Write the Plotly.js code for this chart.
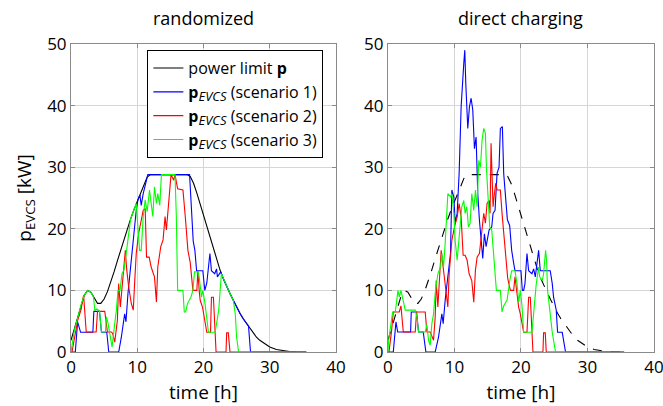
<!DOCTYPE html>
<html><head><meta charset="utf-8">
<script src="https://cdn.plot.ly/plotly-3.0.1.min.js"></script>
<style>html,body{margin:0;padding:0;background:#fff}#chart{width:663px;height:406px}</style>
</head><body><div id="chart"></div><script>
// power limit p (both panels)
const tLimit = [0,0.5,1,1.5,2,2.5,3,3.5,4,4.5,5,5.5,6,6.5,7,7.5,8,8.5,9,9.5,10,10.5,11,11.5,12,17.5,18,18.5,19,19.5,20,20.5,21,21.5,22,22.5,23,23.5,24,24.5,25,25.5,26,26.5,27,27.5,28,28.5,29,29.5,30,31,32,33,34,35.5];
const pLimit = [1.9,3.8,5.7,7.6,9.2,10.0,9.7,8.8,7.9,7.9,8.6,9.8,11.3,13.0,14.8,16.6,18.4,20.0,21.6,23.1,24.5,25.9,27.3,28.4,28.8,28.8,28.5,27.4,25.8,24.0,22.2,20.3,18.4,16.6,14.9,13.3,11.9,10.6,9.5,8.4,7.3,6.3,5.4,4.6,3.8,3.0,2.4,1.9,1.5,1.1,0.8,0.4,0.18,0.08,0.03,0];

// randomized: scenario 1
const tRand1 = [0,0.65,1.0,1.45,3.3,3.45,4.3,4.6,5.4,5.7,7.2,7.6,8.1,8.3,8.6,9.1,9.45,9.85,10.1,10.4,10.6,10.9,11.6,17.9,18.45,18.7,18.96,19.9,20.2,20.5,20.97,21.2,21.7,21.97,22.1,22.6,23.0,23.5,24.0,24.5,25.0,25.5,26.0,26.5,26.8,27.1,35.5];
const pRand1 = [0,0,4.9,3.2,3.2,6.6,6.6,3.2,3.2,0,0,2.4,6.2,4.9,9.5,14.9,19.2,23.0,24.7,25.5,23.8,25.7,28.8,28.8,18.0,16.5,13.2,13.2,10.0,11.2,16.0,13.2,12.7,13.5,12.2,13.0,11.9,10.6,9.5,8.4,7.3,6.3,5.4,4.6,4.2,0,0];
// randomized: scenario 2
const tRand2 = [0,0.15,1.0,1.5,1.9,2.3,3.8,4.0,5.1,5.5,6.1,6.3,6.6,7.0,7.2,7.45,7.85,8.2,8.4,8.7,9.1,9.4,9.6,9.85,10.2,10.6,10.9,11.2,11.4,11.8,12.1,12.6,12.9,13.1,13.55,13.9,14.2,14.4,14.6,14.9,15.1,15.5,15.7,16.1,16.9,17.25,17.65,18.0,18.4,19.0,19.15,19.35,19.5,19.85,20.05,20.5,21.06,21.2,21.5,21.9,23.4,23.5,23.75,24.0,35.5];
const pRand2 = [0,0,5.1,6.8,9.2,3.25,3.25,6.6,6.6,3.25,3.25,3.0,1.6,5.1,11.1,7.3,12.2,16.5,13.5,10.6,7.9,6.8,11.1,16.0,19.2,21.1,23.0,23.3,15.4,15.4,13.8,12.2,8.1,13.8,17.1,18.2,22.0,19.8,22.5,26.3,28.8,27.9,28.8,26.5,26.3,22.0,16.5,14.5,10.0,10.0,13.2,10.0,8.4,7.3,6.2,3.2,3.2,8.9,8.9,0,0,3.1,3.1,0,0];
// randomized: scenario 3
const tRand3 = [0,0.5,1.0,1.5,2.0,2.5,3.0,3.4,3.6,3.9,4.3,4.6,5.2,5.35,5.6,6.2,6.6,6.85,7.1,7.4,7.7,8.0,8.2,8.4,8.6,9.0,9.5,9.85,10.1,10.35,10.6,10.9,11.2,11.5,11.85,12.1,12.35,12.6,12.9,13.1,13.4,13.65,15.7,15.9,16.1,16.9,17.1,17.3,17.6,18.1,18.4,18.65,19.2,19.35,19.7,19.9,20.2,20.75,21.76,22.3,22.7,22.9,23.5,24.0,24.5,24.8,25.0,25.3,35.5];
const pRand3 = [0,3.5,5.5,7.6,9.2,10.0,9.7,8.9,6.7,7.0,6.7,3.25,3.25,5.7,4.6,0.8,4.6,6.8,10.0,10.0,12.7,13.3,14.9,16.5,18.7,21.6,23.1,24.1,20.3,16.5,16.5,22.0,24.7,22.8,26.3,24.1,22.0,26.8,24.1,25.7,23.8,28.8,28.8,22.0,10.0,10.0,6.5,6.5,7.9,8.9,10.0,13.0,13.0,12.2,8.9,10.0,8.1,3.2,3.2,6.8,12.7,12.2,10.6,9.5,8.4,6.2,2.4,0,0];

// direct charging: scenario 1
const tDir1 = [0,0.8,1.2,1.46,3.4,3.5,4.3,4.6,5.3,5.7,7.1,7.6,8.1,8.3,8.6,9.1,9.4,9.6,9.9,10.1,10.4,10.7,11.0,11.4,11.55,11.7,12.0,12.25,12.5,12.75,13.0,13.25,13.5,13.75,14.0,14.25,14.5,14.75,15.2,15.6,15.8,16.1,16.4,16.7,16.9,17.2,17.4,17.7,17.95,18.3,18.6,18.9,19.1,20.0,20.2,20.4,20.6,20.9,21.15,21.65,21.9,22.15,22.4,22.65,22.9,24.4,24.7,24.9,25.3,25.5,26.2,26.45,26.7,35.5];
const pDir1 = [0,0,4.9,3.25,3.25,6.5,6.5,3.25,3.25,0,0,2.4,6.2,4.6,8.4,12.7,16.0,26.3,25.2,21.1,22.5,29.0,39.8,46.9,49.0,43.6,36.3,39.8,41.2,39.3,33.0,34.9,25.7,21.4,18.1,15.2,19.2,17.1,19.8,20.3,22.5,23.0,29.0,30.0,36.3,36.6,29.0,25.0,21.5,20.5,16.5,14.4,13.2,13.2,10.0,10.0,11.1,16.0,13.2,12.7,13.5,12.2,14.0,16.5,13.2,13.2,11.1,8.9,6.8,3.2,3.2,1.6,0,0];
// direct charging: scenario 2
const tDir2 = [0,0.15,0.55,0.8,1.7,1.95,2.3,4.1,4.3,5.6,5.85,6.35,6.85,7.1,7.25,7.5,8.0,8.4,8.7,9.0,9.2,9.6,10.0,10.4,10.7,11.0,11.3,11.6,11.9,12.2,12.6,12.9,13.15,13.4,13.75,14.15,14.4,14.65,14.9,15.2,15.35,15.5,15.8,16.0,16.2,16.4,16.9,17.15,17.45,17.7,18.0,18.4,18.9,19.1,19.4,19.65,19.9,20.15,20.4,20.9,21.15,21.4,21.65,21.8,23.3,23.4,23.65,23.8,35.5];
const pDir2 = [0,0,3.5,6.5,6.5,7.5,3.25,3.25,6.5,6.5,3.25,3.25,1.9,5.7,11.6,7.3,16.5,12.7,10.0,7.3,12.7,18.1,20.3,21.9,24.1,21.9,15.7,15.7,14.9,12.7,11.6,8.1,13.3,15.4,16.0,20.3,22.5,20.9,24.1,24.6,22.5,33.9,23.6,25.7,27.4,26.3,26.3,22.5,18.5,15.0,12.0,10.0,10.0,12.2,8.9,7.3,6.2,4.6,3.2,3.2,8.9,8.9,3.5,0,0,3.1,3.1,0,0];
// direct charging: scenario 3
const tDir3 = [0,0.1,0.7,1.1,1.5,1.7,1.95,2.3,2.6,4.1,4.35,4.6,5.6,5.85,6.1,6.35,6.6,6.85,7.1,7.5,7.9,8.1,8.35,8.6,9.0,9.4,9.6,9.9,10.1,10.4,10.6,10.85,11.1,11.4,11.6,11.85,12.1,12.35,12.6,12.9,13.15,13.4,13.65,13.9,14.15,14.4,14.65,14.8,15.1,15.3,15.6,15.8,16.1,16.3,16.9,17.15,17.4,17.9,18.3,18.6,19.1,19.4,19.65,19.9,20.15,20.4,21.65,21.9,22.3,22.65,22.8,23.2,23.4,23.7,23.85,24.0,24.3,24.7,24.9,25.2,35.5];
const pDir3 = [0,1.9,6.5,6.5,10.0,8.9,10.0,8.4,6.8,6.8,5.7,3.25,3.25,4.5,1.9,1.1,4.6,6.2,9.5,12.7,13.8,16.0,13.8,17.6,25.7,25.2,25.7,22.5,18.1,14.9,17.1,20.3,23.6,24.6,22.5,23.6,20.3,20.9,25.7,23.0,26.3,23.6,31.1,30.0,34.4,36.3,35.5,30.0,23.0,20.3,19.8,17.1,12.7,10.0,10.0,6.5,7.5,8.4,11.5,13.2,13.2,11.1,8.1,10.0,7.5,3.2,3.2,6.8,11.1,13.8,12.2,11.6,12.7,16.5,14.9,10.0,6.8,3.2,1.9,0,0];

const BLUE = '#0000ff', RED = '#ff0000', GREEN = '#00ff00';
const LW = 1.1;
function tr(x, y, color, name, axis, show, dash) {
  return {x: x, y: y, type: 'scatter', mode: 'lines', name: name, showlegend: show,
    xaxis: axis === 2 ? 'x2' : 'x', yaxis: axis === 2 ? 'y2' : 'y',
    line: {color: color, width: LW, dash: dash || 'solid'}, hoverinfo: 'skip'};
}
const sub = '<b>p</b><sub><span style="font-size:13px"><i>EVCS</i></span></sub>';
const data = [
  tr(tLimit, pLimit, '#000000', 'power limit <b>p</b>', 1, true),
  tr(tRand1, pRand1, BLUE, sub + ' (scenario 1)', 1, true),
  tr(tRand2, pRand2, RED, sub + ' (scenario 2)', 1, true),
  tr(tRand3, pRand3, GREEN, sub + ' (scenario 3)', 1, true),
  tr(tLimit, pLimit, '#000000', 'limit', 2, false, 'dash'),
  tr(tDir1, pDir1, BLUE, 's1', 2, false),
  tr(tDir2, pDir2, RED, 's2', 2, false),
  tr(tDir3, pDir3, GREEN, 's3', 2, false)
];
const ax = {range: [0, 40], tickvals: [0, 10, 20, 30, 40], showgrid: true, gridcolor: '#d6d6d6', gridwidth: 1,
  showline: true, linecolor: '#8a8a8a', linewidth: 1, mirror: 'ticks', ticks: 'inside', ticklen: 4, tickcolor: '#8a8a8a',
  zeroline: false, tickfont: {size: 17}, fixedrange: true, layer: 'below traces', ticklabeloverflow: 'allow'};
const ay = Object.assign({}, ax, {range: [0, 50], tickvals: [0, 10, 20, 30, 40, 50]});
const layout = {
  width: 663, height: 406,
  margin: {l: 71, r: 9, t: 44, b: 54},
  paper_bgcolor: '#fff', plot_bgcolor: '#fff',
  font: {family: 'Open Sans, Liberation Sans, sans-serif', size: 17, color: '#000'},
  xaxis: Object.assign({}, ax, {domain: [0, 0.4545], anchor: 'y', title: {text: 'time [h]', font: {size: 19}, standoff: 8}}),
  yaxis: Object.assign({}, ay, {domain: [0, 1], anchor: 'x', title: {text: 'p<sub>EVCS</sub> [kW]', font: {size: 19}, standoff: 10}}),
  xaxis2: Object.assign({}, ax, {domain: [0.5437, 1], anchor: 'y2', title: {text: 'time [h]', font: {size: 19}, standoff: 8}}),
  yaxis2: Object.assign({}, ay, {domain: [0, 1], anchor: 'x2'}),
  showlegend: true,
  legend: {x: 0.131, y: 0.98, xanchor: 'left', yanchor: 'top', bgcolor: '#fff', bordercolor: '#000', borderwidth: 1,
    font: {size: 16}, tracegroupgap: 0},
  annotations: [
    {text: 'randomized', x: 0.2273, y: 1.084, xref: 'paper', yref: 'paper', xanchor: 'center', yanchor: 'middle', showarrow: false, font: {size: 18}},
    {text: 'direct charging', x: 0.7718, y: 1.084, xref: 'paper', yref: 'paper', xanchor: 'center', yanchor: 'middle', showarrow: false, font: {size: 18}}
  ]
};
Plotly.newPlot('chart', data, layout, {displayModeBar: false, staticPlot: true});
</script></body></html>
